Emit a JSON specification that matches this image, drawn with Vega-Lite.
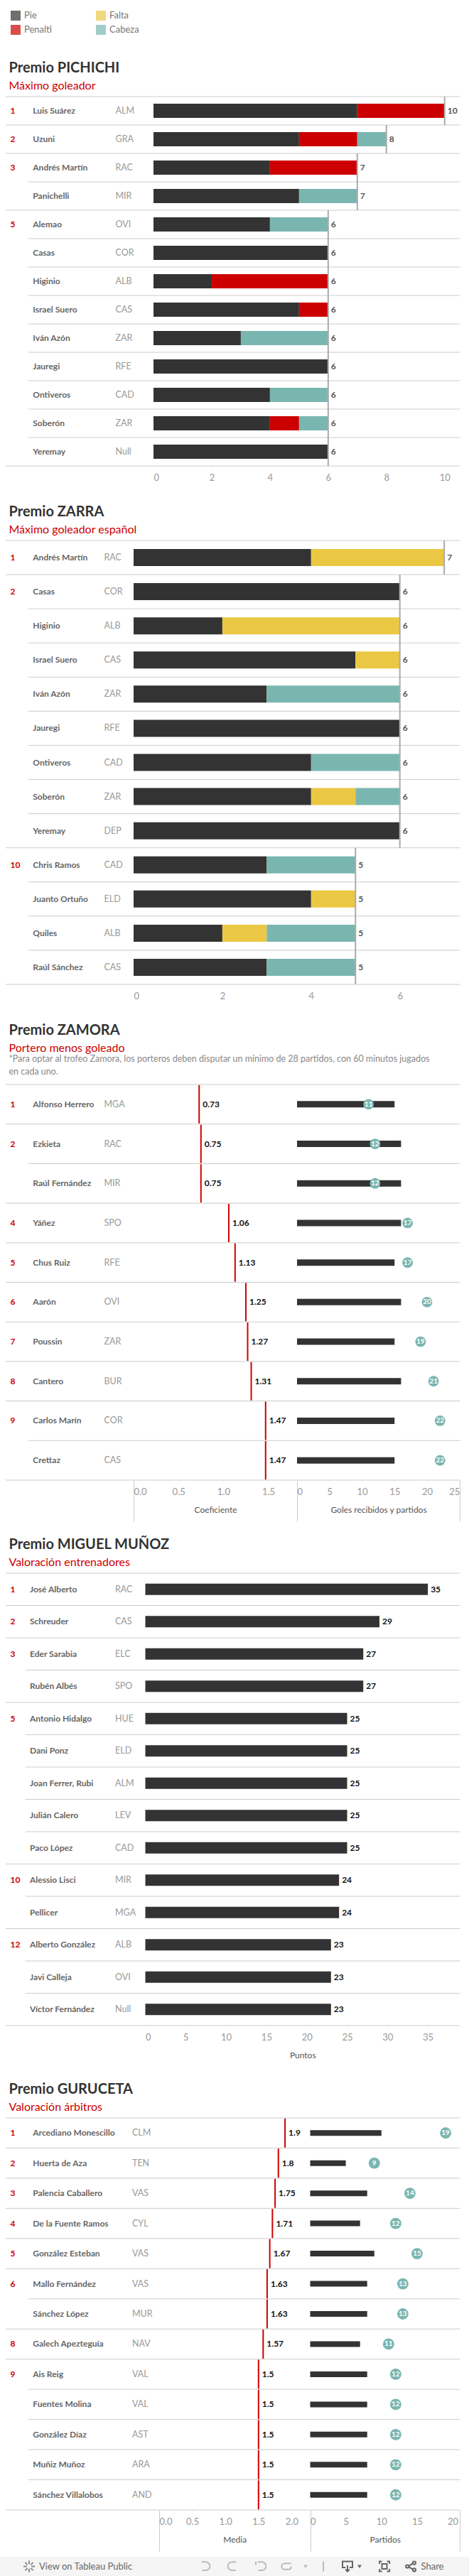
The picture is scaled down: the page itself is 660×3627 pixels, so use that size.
{"$schema":"https://vega.github.io/schema/vega-lite/v6.json","padding":0,"background":"white","spacing":0,"bounds":"flush","vconcat":[
{"width":660,"height":136,"data":{"values":[{"tipo":"Pie"},{"tipo":"Falta"},{"tipo":"Penalti"},{"tipo":"Cabeza"}]},"mark":{"type":"square","size":0},"encoding":{"color":{"field":"tipo","type":"nominal","scale":{"domain":["Pie","Penalti","Falta","Cabeza"],"range":["#333333","#cc0000","#ebc844","#7ab6b0"]},"legend":{"orient":"top-left","offset":15,"columns":2,"title":null,"symbolType":"square","symbolSize":196,"symbolStrokeWidth":0,"labelFontSize":13,"labelColor":"#777777","labelOffset":5,"rowPadding":6,"columnPadding":61}}}},
{"title":{"text":"Premio PICHICHI","subtitle":"Máximo goleador"},"width":660,"height":520,"data":{"name":"pichichi"},"resolve":{"scale":{"x":"independent"},"axis":{"x":"independent"}},"encoding":{"y":{"field":"fila","type":"ordinal","scale":{"type":"band","paddingInner":0,"paddingOuter":0},"axis":null}},"layer":[
{"layer":[
{"transform":[{"filter":"datum.rank!==''"}],"mark":{"type":"rule","color":"#cccccc"},"encoding":{"x":{"datum":8,"type":"quantitative","scale":{"domain":[0,660],"nice":false},"axis":null},"x2":{"datum":647},"y":{"field":"fila","type":"ordinal","bandPosition":0,"axis":null}}},
{"transform":[{"filter":"datum.rank===''"}],"mark":{"type":"rule","color":"#cccccc"},"encoding":{"x":{"datum":40,"type":"quantitative","axis":null},"x2":{"datum":647},"y":{"field":"fila","type":"ordinal","bandPosition":0,"axis":null}}},
{"transform":[{"filter":"datum.fila==13"}],"mark":{"type":"rule","color":"#cccccc"},"encoding":{"x":{"datum":8,"type":"quantitative","axis":null},"x2":{"datum":647},"y":{"field":"fila","type":"ordinal","bandPosition":1,"axis":null}}},
{"mark":{"type":"text","style":"rango","color":"#cc0000"},"encoding":{"x":{"datum":14.5,"type":"quantitative","axis":null},"text":{"field":"rank"}}},
{"mark":{"type":"text","style":"nombre","color":"#666666"},"encoding":{"x":{"datum":46.3,"type":"quantitative","axis":null},"text":{"field":"nombre"}}},
{"mark":{"type":"text","style":"equipo","color":"#999999"},"encoding":{"x":{"datum":162.5,"type":"quantitative","axis":null},"text":{"field":"equipo"}}}]},
{"layer":[
{"data":{"name":"pichichi_goles"},"mark":{"type":"bar","size":20},"encoding":{"x":{"field":"goles","type":"quantitative","stack":"zero","scale":{"domain":[0,10.52],"nice":false,"range":[216,647]},"axis":{"orient":"bottom","values":[0,1,2,3,4,5,6,7,8,9,10,10.52],"format":"d","labelOverlap":false,"labelExpr":"datum.value==10.52?'':datum.label","title":null,"gridColor":{"condition":{"test":"datum.value==0||datum.value==10.52","value":"#cccccc"},"value":"#eeeeee"}}},"color":{"field":"tipo","type":"nominal","scale":{"domain":["Pie","Falta","Penalti","Cabeza"],"range":["#333333","#ebc844","#cc0000","#7ab6b0"]},"legend":null},"order":{"field":"o"}}},
{"mark":{"type":"tick","size":40,"thickness":2,"color":"#aaaaaa","opacity":1},"encoding":{"x":{"field":"total","type":"quantitative","axis":{"orient":"bottom","values":[0,1,2,3,4,5,6,7,8,9,10,10.52],"format":"d","labelOverlap":false,"labelExpr":"datum.value==10.52?'':datum.label","title":null,"gridColor":{"condition":{"test":"datum.value==0||datum.value==10.52","value":"#cccccc"},"value":"#eeeeee"}}}}},
{"mark":{"type":"text","style":"valorg","color":"#555555","dx":4},"encoding":{"x":{"field":"total","type":"quantitative","axis":{"orient":"bottom","values":[0,1,2,3,4,5,6,7,8,9,10,10.52],"format":"d","labelOverlap":false,"labelExpr":"datum.value==10.52?'':datum.label","title":null,"gridColor":{"condition":{"test":"datum.value==0||datum.value==10.52","value":"#cccccc"},"value":"#eeeeee"}}},"text":{"field":"total"}}}]}]},
{"width":660,"height":105,"data":{"values":[]},"mark":"text","encoding":{}},
{"title":{"text":"Premio ZARRA","subtitle":"Máximo goleador español"},"width":660,"height":625,"data":{"name":"zarra"},"resolve":{"scale":{"x":"independent"},"axis":{"x":"independent"}},"encoding":{"y":{"field":"fila","type":"ordinal","scale":{"type":"band","paddingInner":0,"paddingOuter":0},"axis":null}},"layer":[
{"layer":[
{"transform":[{"filter":"datum.rank!==''"}],"mark":{"type":"rule","color":"#cccccc"},"encoding":{"x":{"datum":8,"type":"quantitative","scale":{"domain":[0,660],"nice":false},"axis":null},"x2":{"datum":647},"y":{"field":"fila","type":"ordinal","bandPosition":0,"axis":null}}},
{"transform":[{"filter":"datum.rank===''"}],"mark":{"type":"rule","color":"#cccccc"},"encoding":{"x":{"datum":40,"type":"quantitative","axis":null},"x2":{"datum":647},"y":{"field":"fila","type":"ordinal","bandPosition":0,"axis":null}}},
{"transform":[{"filter":"datum.fila==13"}],"mark":{"type":"rule","color":"#cccccc"},"encoding":{"x":{"datum":8,"type":"quantitative","axis":null},"x2":{"datum":647},"y":{"field":"fila","type":"ordinal","bandPosition":1,"axis":null}}},
{"mark":{"type":"text","style":"rango","color":"#cc0000"},"encoding":{"x":{"datum":14.5,"type":"quantitative","axis":null},"text":{"field":"rank"}}},
{"mark":{"type":"text","style":"nombre","color":"#666666"},"encoding":{"x":{"datum":46.3,"type":"quantitative","axis":null},"text":{"field":"nombre"}}},
{"mark":{"type":"text","style":"equipo","color":"#999999"},"encoding":{"x":{"datum":146.5,"type":"quantitative","axis":null},"text":{"field":"equipo"}}}]},
{"layer":[
{"data":{"name":"zarra_goles"},"mark":{"type":"bar","size":24},"encoding":{"x":{"field":"goles","type":"quantitative","stack":"zero","scale":{"domain":[0,7.35],"nice":false,"range":[188,647]},"axis":{"orient":"bottom","values":[0,1,2,3,4,5,6,7,7.35],"format":"d","labelOverlap":false,"labelExpr":"datum.value==7.35?'':datum.label","title":null,"gridColor":{"condition":{"test":"datum.value==0||datum.value==7.35","value":"#cccccc"},"value":"#eeeeee"}}},"color":{"field":"tipo","type":"nominal","scale":{"domain":["Pie","Falta","Penalti","Cabeza"],"range":["#333333","#ebc844","#cc0000","#7ab6b0"]},"legend":null},"order":{"field":"o"}}},
{"mark":{"type":"tick","size":48,"thickness":2,"color":"#aaaaaa","opacity":1},"encoding":{"x":{"field":"total","type":"quantitative","axis":{"orient":"bottom","values":[0,1,2,3,4,5,6,7,7.35],"format":"d","labelOverlap":false,"labelExpr":"datum.value==7.35?'':datum.label","title":null,"gridColor":{"condition":{"test":"datum.value==0||datum.value==7.35","value":"#cccccc"},"value":"#eeeeee"}}}}},
{"mark":{"type":"text","style":"valorg","color":"#555555","dx":4},"encoding":{"x":{"field":"total","type":"quantitative","axis":{"orient":"bottom","values":[0,1,2,3,4,5,6,7,7.35],"format":"d","labelOverlap":false,"labelExpr":"datum.value==7.35?'':datum.label","title":null,"gridColor":{"condition":{"test":"datum.value==0||datum.value==7.35","value":"#cccccc"},"value":"#eeeeee"}}},"text":{"field":"total"}}}]}]},
{"width":660,"height":141,"data":{"values":[{"linea":"*Para optar al trofeo Zamora, los porteros deben disputar un mínimo de 28 partidos, con 60 minutos jugados","resto":"en cada uno."}]},"layer":[
{"mark":{"type":"text","style":"nota","color":"#888888"},"encoding":{"x":{"datum":12.5,"type":"quantitative","scale":{"domain":[0,660],"nice":false},"axis":null},"y":{"datum":105,"type":"quantitative","scale":{"domain":[0,141],"nice":false,"reverse":true},"axis":null},"text":{"field":"linea"}}},
{"mark":{"type":"text","style":"nota","color":"#888888"},"encoding":{"x":{"datum":12.5,"type":"quantitative","axis":null},"y":{"datum":123,"type":"quantitative","axis":null},"text":{"field":"resto"}}}]},
{"title":{"text":"Premio ZAMORA","subtitle":"Portero menos goleado","offset":43},"width":660,"height":557,"data":{"name":"zamora"},"resolve":{"scale":{"x":"independent"},"axis":{"x":"independent"}},"encoding":{"y":{"field":"fila","type":"ordinal","scale":{"type":"band","paddingInner":0,"paddingOuter":0},"axis":null}},"layer":[
{"layer":[
{"transform":[{"filter":"datum.rank!==''"}],"mark":{"type":"rule","color":"#cccccc"},"encoding":{"x":{"datum":8,"type":"quantitative","scale":{"domain":[0,660],"nice":false},"axis":null},"x2":{"datum":647},"y":{"field":"fila","type":"ordinal","bandPosition":0,"axis":null}}},
{"transform":[{"filter":"datum.rank===''"}],"mark":{"type":"rule","color":"#cccccc"},"encoding":{"x":{"datum":40,"type":"quantitative","axis":null},"x2":{"datum":647},"y":{"field":"fila","type":"ordinal","bandPosition":0,"axis":null}}},
{"transform":[{"filter":"datum.fila==10"}],"mark":{"type":"rule","color":"#cccccc"},"encoding":{"x":{"datum":8,"type":"quantitative","axis":null},"x2":{"datum":647},"y":{"field":"fila","type":"ordinal","bandPosition":1,"axis":null}}},
{"mark":{"type":"text","style":"rango","color":"#cc0000"},"encoding":{"x":{"datum":14.5,"type":"quantitative","axis":null},"text":{"field":"rank"}}},
{"mark":{"type":"text","style":"nombre","color":"#666666"},"encoding":{"x":{"datum":46.3,"type":"quantitative","axis":null},"text":{"field":"nombre"}}},
{"mark":{"type":"text","style":"equipo","color":"#999999"},"encoding":{"x":{"datum":146.5,"type":"quantitative","axis":null},"text":{"field":"equipo"}}}]},
{"layer":[
{"mark":{"type":"tick","size":54,"thickness":2,"color":"#cc0000","opacity":1},"encoding":{"x":{"field":"coeficiente","type":"quantitative","scale":{"domain":[0,1.82],"nice":false,"range":[188,418]},"axis":{"orient":"bottom","values":[0,0.5,1,1.5],"format":".1f","title":"Coeficiente","titleY":41,"tickSize":{"condition":{"test":"datum.value==0","value":58},"value":3},"labelPadding":{"condition":{"test":"datum.value==0","value":-48},"value":7},"tickColor":{"condition":{"test":"datum.value==0","value":"#cccccc"},"value":"#eeeeee"},"gridColor":{"condition":{"test":"datum.value==0","value":"#cccccc"},"value":"#eeeeee"}}}}},
{"mark":{"type":"text","style":"valor","color":"#111111","dx":5},"encoding":{"x":{"field":"coeficiente","type":"quantitative","axis":{"orient":"bottom","values":[0,0.5,1,1.5],"format":".1f","title":"Coeficiente","titleY":41,"tickSize":{"condition":{"test":"datum.value==0","value":58},"value":3},"labelPadding":{"condition":{"test":"datum.value==0","value":-48},"value":7},"tickColor":{"condition":{"test":"datum.value==0","value":"#cccccc"},"value":"#eeeeee"},"gridColor":{"condition":{"test":"datum.value==0","value":"#cccccc"},"value":"#eeeeee"}}},"text":{"field":"coeficiente","format":".2f"}}}]},
{"layer":[
{"mark":{"type":"bar","size":9,"color":"#333333"},"encoding":{"x":{"field":"partidos","type":"quantitative","scale":{"domain":[0,25.03],"nice":false,"range":[418,647]},"axis":{"orient":"bottom","values":[0,5,10,15,20,25,25.03],"format":"d","labelExpr":"datum.value==25.03?'':datum.label","title":"Goles recibidos y partidos","titleY":41,"tickSize":{"condition":{"test":"datum.value==0||datum.value==25.03","value":58},"value":3},"labelPadding":{"condition":{"test":"datum.value==0","value":-48},"value":7},"tickColor":{"condition":{"test":"datum.value==0||datum.value==25.03","value":"#cccccc"},"value":"#eeeeee"},"gridColor":{"condition":{"test":"datum.value==0||datum.value==25.03","value":"#cccccc"},"value":"#eeeeee"}}}}},
{"mark":{"type":"circle","size":220,"color":"#7ab6b0","opacity":1},"encoding":{"x":{"field":"goles","type":"quantitative","axis":{"orient":"bottom","values":[0,5,10,15,20,25,25.03],"format":"d","labelExpr":"datum.value==25.03?'':datum.label","title":"Goles recibidos y partidos","titleY":41,"tickSize":{"condition":{"test":"datum.value==0||datum.value==25.03","value":58},"value":3},"labelPadding":{"condition":{"test":"datum.value==0","value":-48},"value":7},"tickColor":{"condition":{"test":"datum.value==0||datum.value==25.03","value":"#cccccc"},"value":"#eeeeee"},"gridColor":{"condition":{"test":"datum.value==0||datum.value==25.03","value":"#cccccc"},"value":"#eeeeee"}}}}},
{"mark":{"type":"text","style":"circulo","color":"#ffffff"},"encoding":{"x":{"field":"goles","type":"quantitative","axis":{"orient":"bottom","values":[0,5,10,15,20,25,25.03],"format":"d","labelExpr":"datum.value==25.03?'':datum.label","title":"Goles recibidos y partidos","titleY":41,"tickSize":{"condition":{"test":"datum.value==0||datum.value==25.03","value":58},"value":3},"labelPadding":{"condition":{"test":"datum.value==0","value":-48},"value":7},"tickColor":{"condition":{"test":"datum.value==0||datum.value==25.03","value":"#cccccc"},"value":"#eeeeee"},"gridColor":{"condition":{"test":"datum.value==0||datum.value==25.03","value":"#cccccc"},"value":"#eeeeee"}}},"text":{"field":"goles"}}}]}]},
{"width":660,"height":131,"data":{"values":[]},"mark":"text","encoding":{}},
{"title":{"text":"Premio MIGUEL MUÑOZ","subtitle":"Valoración entrenadores"},"width":660,"height":637,"data":{"name":"munoz"},"resolve":{"scale":{"x":"independent"},"axis":{"x":"independent"}},"encoding":{"y":{"field":"fila","type":"ordinal","scale":{"type":"band","paddingInner":0,"paddingOuter":0},"axis":null}},"layer":[
{"layer":[
{"transform":[{"filter":"datum.rank!==''"}],"mark":{"type":"rule","color":"#cccccc"},"encoding":{"x":{"datum":8,"type":"quantitative","scale":{"domain":[0,660],"nice":false},"axis":null},"x2":{"datum":647},"y":{"field":"fila","type":"ordinal","bandPosition":0,"axis":null}}},
{"transform":[{"filter":"datum.rank===''"}],"mark":{"type":"rule","color":"#cccccc"},"encoding":{"x":{"datum":36,"type":"quantitative","axis":null},"x2":{"datum":647},"y":{"field":"fila","type":"ordinal","bandPosition":0,"axis":null}}},
{"transform":[{"filter":"datum.fila==14"}],"mark":{"type":"rule","color":"#cccccc"},"encoding":{"x":{"datum":8,"type":"quantitative","axis":null},"x2":{"datum":647},"y":{"field":"fila","type":"ordinal","bandPosition":1,"axis":null}}},
{"mark":{"type":"text","style":"rango","color":"#cc0000"},"encoding":{"x":{"datum":14.5,"type":"quantitative","axis":null},"text":{"field":"rank"}}},
{"mark":{"type":"text","style":"nombre","color":"#666666"},"encoding":{"x":{"datum":42,"type":"quantitative","axis":null},"text":{"field":"nombre"}}},
{"mark":{"type":"text","style":"equipo","color":"#999999"},"encoding":{"x":{"datum":162,"type":"quantitative","axis":null},"text":{"field":"equipo"}}}]},
{"layer":[
{"mark":{"type":"bar","size":16,"color":"#333333"},"encoding":{"x":{"field":"puntos","type":"quantitative","scale":{"domain":[0,38.95],"nice":false,"range":[204.5,647]},"axis":{"orient":"bottom","values":[0,5,10,15,20,25,30,35,38.95],"format":"d","labelExpr":"datum.value==38.95?'':datum.label","title":"Puntos","titleY":41,"gridColor":{"condition":{"test":"datum.value==0||datum.value==38.95","value":"#cccccc"},"value":"#eeeeee"}}}}},
{"mark":{"type":"text","style":"valor","color":"#111111","dx":4},"encoding":{"x":{"field":"puntos","type":"quantitative","axis":{"orient":"bottom","values":[0,5,10,15,20,25,30,35,38.95],"format":"d","labelExpr":"datum.value==38.95?'':datum.label","title":"Puntos","titleY":41,"gridColor":{"condition":{"test":"datum.value==0||datum.value==38.95","value":"#cccccc"},"value":"#eeeeee"}}},"text":{"field":"puntos"}}}]}]},
{"width":660,"height":130,"data":{"values":[]},"mark":"text","encoding":{}},
{"title":{"text":"Premio GURUCETA","subtitle":"Valoración árbitros"},"width":660,"height":552,"data":{"name":"guruceta"},"resolve":{"scale":{"x":"independent"},"axis":{"x":"independent"}},"encoding":{"y":{"field":"fila","type":"ordinal","scale":{"type":"band","paddingInner":0,"paddingOuter":0},"axis":null}},"layer":[
{"layer":[
{"transform":[{"filter":"datum.rank!==''"}],"mark":{"type":"rule","color":"#cccccc"},"encoding":{"x":{"datum":8,"type":"quantitative","scale":{"domain":[0,660],"nice":false},"axis":null},"x2":{"datum":647},"y":{"field":"fila","type":"ordinal","bandPosition":0,"axis":null}}},
{"transform":[{"filter":"datum.rank===''"}],"mark":{"type":"rule","color":"#cccccc"},"encoding":{"x":{"datum":40,"type":"quantitative","axis":null},"x2":{"datum":647},"y":{"field":"fila","type":"ordinal","bandPosition":0,"axis":null}}},
{"transform":[{"filter":"datum.fila==13"}],"mark":{"type":"rule","color":"#cccccc"},"encoding":{"x":{"datum":8,"type":"quantitative","axis":null},"x2":{"datum":647},"y":{"field":"fila","type":"ordinal","bandPosition":1,"axis":null}}},
{"mark":{"type":"text","style":"rango","color":"#cc0000"},"encoding":{"x":{"datum":14.5,"type":"quantitative","axis":null},"text":{"field":"rank"}}},
{"mark":{"type":"text","style":"nombre","color":"#666666"},"encoding":{"x":{"datum":46.3,"type":"quantitative","axis":null},"text":{"field":"nombre"}}},
{"mark":{"type":"text","style":"equipo","color":"#999999"},"encoding":{"x":{"datum":186,"type":"quantitative","axis":null},"text":{"field":"equipo"}}}]},
{"layer":[
{"mark":{"type":"tick","size":41,"thickness":2,"color":"#cc0000","opacity":1},"encoding":{"x":{"field":"media","type":"quantitative","scale":{"domain":[0,2.28],"nice":false,"range":[224,436.5]},"axis":{"orient":"bottom","values":[0,0.5,1,1.5,2],"format":".1f","title":"Media","titleY":41,"tickSize":{"condition":{"test":"datum.value==0","value":58},"value":3},"labelPadding":{"condition":{"test":"datum.value==0","value":-48},"value":7},"tickColor":{"condition":{"test":"datum.value==0","value":"#cccccc"},"value":"#eeeeee"},"gridColor":{"condition":{"test":"datum.value==0","value":"#cccccc"},"value":"#eeeeee"}}}}},
{"mark":{"type":"text","style":"valor","color":"#111111","dx":5},"encoding":{"x":{"field":"media","type":"quantitative","axis":{"orient":"bottom","values":[0,0.5,1,1.5,2],"format":".1f","title":"Media","titleY":41,"tickSize":{"condition":{"test":"datum.value==0","value":58},"value":3},"labelPadding":{"condition":{"test":"datum.value==0","value":-48},"value":7},"tickColor":{"condition":{"test":"datum.value==0","value":"#cccccc"},"value":"#eeeeee"},"gridColor":{"condition":{"test":"datum.value==0","value":"#cccccc"},"value":"#eeeeee"}}},"text":{"field":"media"}}}]},
{"layer":[
{"mark":{"type":"bar","size":8,"color":"#333333"},"encoding":{"x":{"field":"partidos","type":"quantitative","scale":{"domain":[0,20.99],"nice":false,"range":[436.5,647]},"axis":{"orient":"bottom","values":[0,5,10,15,20,20.99],"format":"d","labelExpr":"datum.value==20.99?'':datum.label","title":"Partidos","titleY":41,"tickSize":{"condition":{"test":"datum.value==0||datum.value==20.99","value":58},"value":3},"labelPadding":{"condition":{"test":"datum.value==0","value":-48},"value":7},"tickColor":{"condition":{"test":"datum.value==0||datum.value==20.99","value":"#cccccc"},"value":"#eeeeee"},"gridColor":{"condition":{"test":"datum.value==0||datum.value==20.99","value":"#cccccc"},"value":"#eeeeee"}}}}},
{"mark":{"type":"circle","size":250,"color":"#7ab6b0","opacity":1},"encoding":{"x":{"field":"goles","type":"quantitative","axis":{"orient":"bottom","values":[0,5,10,15,20,20.99],"format":"d","labelExpr":"datum.value==20.99?'':datum.label","title":"Partidos","titleY":41,"tickSize":{"condition":{"test":"datum.value==0||datum.value==20.99","value":58},"value":3},"labelPadding":{"condition":{"test":"datum.value==0","value":-48},"value":7},"tickColor":{"condition":{"test":"datum.value==0||datum.value==20.99","value":"#cccccc"},"value":"#eeeeee"},"gridColor":{"condition":{"test":"datum.value==0||datum.value==20.99","value":"#cccccc"},"value":"#eeeeee"}}}}},
{"mark":{"type":"text","style":"circulo","color":"#ffffff"},"encoding":{"x":{"field":"goles","type":"quantitative","axis":{"orient":"bottom","values":[0,5,10,15,20,20.99],"format":"d","labelExpr":"datum.value==20.99?'':datum.label","title":"Partidos","titleY":41,"tickSize":{"condition":{"test":"datum.value==0||datum.value==20.99","value":58},"value":3},"labelPadding":{"condition":{"test":"datum.value==0","value":-48},"value":7},"tickColor":{"condition":{"test":"datum.value==0||datum.value==20.99","value":"#cccccc"},"value":"#eeeeee"},"gridColor":{"condition":{"test":"datum.value==0||datum.value==20.99","value":"#cccccc"},"value":"#eeeeee"}}},"text":{"field":"goles"}}}]}]},
{"width":660,"height":66,"data":{"values":[]},"mark":"text","encoding":{}},
{"width":660,"height":27,"view":{"fill":"#f5f5f5","stroke":null},"data":{"values":[{"enlace":"View on Tableau Public","compartir":"Share"}]},"layer":[
{"mark":{"type":"text","style":"pie","color":"#666666"},"encoding":{"x":{"datum":55,"type":"quantitative","scale":{"domain":[0,660],"nice":false},"axis":null},"text":{"field":"enlace"}}},
{"mark":{"type":"text","style":"pie","color":"#666666"},"encoding":{"x":{"datum":592.5,"type":"quantitative","axis":null},"text":{"field":"compartir"}}},
{"mark":{"type":"point","size":256,"filled":false,"stroke":"#888888","opacity":1,"shape":"M0,-1V-0.4M0,0.4V1M-1,0H-0.4M0.4,0H1M-0.7,-0.7L-0.3,-0.3M0.3,0.3L0.7,0.7M-0.7,0.7L-0.3,0.3M0.3,-0.3L0.7,-0.7"},"encoding":{"x":{"datum":41,"type":"quantitative","axis":null}}},
{"mark":{"type":"point","size":196,"filled":false,"stroke":"#bbbbbb","opacity":1,"shape":"M-0.6,-0.9H0.2A0.8,0.8 0 0 1 0.2,0.8H-0.5"},"encoding":{"x":{"datum":288,"type":"quantitative","axis":null}}},
{"mark":{"type":"point","size":196,"filled":false,"stroke":"#bbbbbb","opacity":1,"shape":"M0.6,-0.9H-0.2A0.8,0.8 0 0 0 -0.2,0.8H0.5"},"encoding":{"x":{"datum":328,"type":"quantitative","axis":null}}},
{"mark":{"type":"point","size":196,"filled":false,"stroke":"#bbbbbb","opacity":1,"shape":"M-1,-1V-0.3M-0.6,-0.9H0.2A0.8,0.8 0 0 1 0.2,0.8H-0.5"},"encoding":{"x":{"datum":367,"type":"quantitative","axis":null}}},
{"mark":{"type":"point","size":196,"filled":false,"stroke":"#bbbbbb","opacity":1,"shape":"M0.8,-0.6H-0.5A0.6,0.6 0 0 0 -0.5,0.6H0.5A0.6,0.6 0 0 0 0.8,0"},"encoding":{"x":{"datum":404,"type":"quantitative","axis":null}}},
{"mark":{"type":"point","size":36,"filled":true,"fill":"#bbbbbb","opacity":1,"shape":"M-1,-0.7H1L0,0.8Z"},"encoding":{"x":{"datum":430,"type":"quantitative","axis":null}}},
{"mark":{"type":"point","size":196,"filled":false,"stroke":"#bbbbbb","opacity":1,"shape":"M0,-1V1"},"encoding":{"x":{"datum":455,"type":"quantitative","axis":null}}},
{"mark":{"type":"point","size":196,"filled":false,"stroke":"#666666","opacity":1,"shape":"M-0.4,0.2H-1V-1H1V0.2H0.4M0,-0.2V1M-0.4,0.6L0,1L0.4,0.6"},"encoding":{"x":{"datum":489,"type":"quantitative","axis":null}}},
{"mark":{"type":"point","size":36,"filled":true,"fill":"#666666","opacity":1,"shape":"M-1,-0.7H1L0,0.8Z"},"encoding":{"x":{"datum":506,"type":"quantitative","axis":null}}},
{"mark":{"type":"point","size":196,"filled":false,"stroke":"#666666","opacity":1,"shape":"M-1,-0.5V-1H-0.5M0.5,-1H1V-0.5M1,0.5V1H0.5M-0.5,1H-1V0.5M-0.5,-0.5H0.5V0.5H-0.5Z"},"encoding":{"x":{"datum":541,"type":"quantitative","axis":null}}},
{"mark":{"type":"point","size":196,"filled":false,"stroke":"#666666","opacity":1,"shape":"M-0.4,-0.1L0.4,-0.6M-0.4,0.1L0.4,0.6M-0.4,0A0.3,0.3 0 1 1 -1,0A0.3,0.3 0 1 1 -0.4,0M1,-0.7A0.3,0.3 0 1 1 0.4,-0.7A0.3,0.3 0 1 1 1,-0.7M1,0.7A0.3,0.3 0 1 1 0.4,0.7A0.3,0.3 0 1 1 1,0.7"},"encoding":{"x":{"datum":578,"type":"quantitative","axis":null}}}]}],
"datasets":{
"pichichi":[{"fila":1,"rank":1,"nombre":"Luis Suárez","equipo":"ALM","total":10},{"fila":2,"rank":2,"nombre":"Uzuni","equipo":"GRA","total":8},{"fila":3,"rank":3,"nombre":"Andrés Martín","equipo":"RAC","total":7},{"fila":4,"rank":"","nombre":"Panichelli","equipo":"MIR","total":7},{"fila":5,"rank":5,"nombre":"Alemao","equipo":"OVI","total":6},{"fila":6,"rank":"","nombre":"Casas","equipo":"COR","total":6},{"fila":7,"rank":"","nombre":"Higinio","equipo":"ALB","total":6},{"fila":8,"rank":"","nombre":"Israel Suero","equipo":"CAS","total":6},{"fila":9,"rank":"","nombre":"Iván Azón","equipo":"ZAR","total":6},{"fila":10,"rank":"","nombre":"Jauregi","equipo":"RFE","total":6},{"fila":11,"rank":"","nombre":"Ontiveros","equipo":"CAD","total":6},{"fila":12,"rank":"","nombre":"Soberón","equipo":"ZAR","total":6},{"fila":13,"rank":"","nombre":"Yeremay","equipo":"Null","total":6}],
"pichichi_goles":[{"fila":1,"tipo":"Pie","goles":7,"o":1},{"fila":1,"tipo":"Penalti","goles":3,"o":2},{"fila":2,"tipo":"Pie","goles":5,"o":1},{"fila":2,"tipo":"Penalti","goles":2,"o":2},{"fila":2,"tipo":"Cabeza","goles":1,"o":4},{"fila":3,"tipo":"Pie","goles":4,"o":1},{"fila":3,"tipo":"Penalti","goles":3,"o":2},{"fila":4,"tipo":"Pie","goles":5,"o":1},{"fila":4,"tipo":"Cabeza","goles":2,"o":4},{"fila":5,"tipo":"Pie","goles":4,"o":1},{"fila":5,"tipo":"Cabeza","goles":2,"o":4},{"fila":6,"tipo":"Pie","goles":6,"o":1},{"fila":7,"tipo":"Pie","goles":2,"o":1},{"fila":7,"tipo":"Penalti","goles":4,"o":2},{"fila":8,"tipo":"Pie","goles":5,"o":1},{"fila":8,"tipo":"Penalti","goles":1,"o":2},{"fila":9,"tipo":"Pie","goles":3,"o":1},{"fila":9,"tipo":"Cabeza","goles":3,"o":4},{"fila":10,"tipo":"Pie","goles":6,"o":1},{"fila":11,"tipo":"Pie","goles":4,"o":1},{"fila":11,"tipo":"Cabeza","goles":2,"o":4},{"fila":12,"tipo":"Pie","goles":4,"o":1},{"fila":12,"tipo":"Penalti","goles":1,"o":2},{"fila":12,"tipo":"Cabeza","goles":1,"o":4},{"fila":13,"tipo":"Pie","goles":6,"o":1}],
"zarra":[{"fila":1,"rank":1,"nombre":"Andrés Martín","equipo":"RAC","total":7},{"fila":2,"rank":2,"nombre":"Casas","equipo":"COR","total":6},{"fila":3,"rank":"","nombre":"Higinio","equipo":"ALB","total":6},{"fila":4,"rank":"","nombre":"Israel Suero","equipo":"CAS","total":6},{"fila":5,"rank":"","nombre":"Iván Azón","equipo":"ZAR","total":6},{"fila":6,"rank":"","nombre":"Jauregi","equipo":"RFE","total":6},{"fila":7,"rank":"","nombre":"Ontiveros","equipo":"CAD","total":6},{"fila":8,"rank":"","nombre":"Soberón","equipo":"ZAR","total":6},{"fila":9,"rank":"","nombre":"Yeremay","equipo":"DEP","total":6},{"fila":10,"rank":10,"nombre":"Chris Ramos","equipo":"CAD","total":5},{"fila":11,"rank":"","nombre":"Juanto Ortuño","equipo":"ELD","total":5},{"fila":12,"rank":"","nombre":"Quiles","equipo":"ALB","total":5},{"fila":13,"rank":"","nombre":"Raúl Sánchez","equipo":"CAS","total":5}],
"zarra_goles":[{"fila":1,"tipo":"Pie","goles":4,"o":1},{"fila":1,"tipo":"Falta","goles":3,"o":3},{"fila":2,"tipo":"Pie","goles":6,"o":1},{"fila":3,"tipo":"Pie","goles":2,"o":1},{"fila":3,"tipo":"Falta","goles":4,"o":3},{"fila":4,"tipo":"Pie","goles":5,"o":1},{"fila":4,"tipo":"Falta","goles":1,"o":3},{"fila":5,"tipo":"Pie","goles":3,"o":1},{"fila":5,"tipo":"Cabeza","goles":3,"o":4},{"fila":6,"tipo":"Pie","goles":6,"o":1},{"fila":7,"tipo":"Pie","goles":4,"o":1},{"fila":7,"tipo":"Cabeza","goles":2,"o":4},{"fila":8,"tipo":"Pie","goles":4,"o":1},{"fila":8,"tipo":"Falta","goles":1,"o":3},{"fila":8,"tipo":"Cabeza","goles":1,"o":4},{"fila":9,"tipo":"Pie","goles":6,"o":1},{"fila":10,"tipo":"Pie","goles":3,"o":1},{"fila":10,"tipo":"Cabeza","goles":2,"o":4},{"fila":11,"tipo":"Pie","goles":4,"o":1},{"fila":11,"tipo":"Falta","goles":1,"o":3},{"fila":12,"tipo":"Pie","goles":2,"o":1},{"fila":12,"tipo":"Falta","goles":1,"o":3},{"fila":12,"tipo":"Cabeza","goles":2,"o":4},{"fila":13,"tipo":"Pie","goles":3,"o":1},{"fila":13,"tipo":"Cabeza","goles":2,"o":4}],
"zamora":[{"fila":1,"rank":1,"nombre":"Alfonso Herrero","equipo":"MGA","coeficiente":0.73,"partidos":15,"goles":11},{"fila":2,"rank":2,"nombre":"Ezkieta","equipo":"RAC","coeficiente":0.75,"partidos":16,"goles":12},{"fila":3,"rank":"","nombre":"Raúl Fernández","equipo":"MIR","coeficiente":0.75,"partidos":16,"goles":12},{"fila":4,"rank":4,"nombre":"Yáñez","equipo":"SPO","coeficiente":1.06,"partidos":16,"goles":17},{"fila":5,"rank":5,"nombre":"Chus Ruiz","equipo":"RFE","coeficiente":1.13,"partidos":15,"goles":17},{"fila":6,"rank":6,"nombre":"Aarón","equipo":"OVI","coeficiente":1.25,"partidos":16,"goles":20},{"fila":7,"rank":7,"nombre":"Poussin","equipo":"ZAR","coeficiente":1.27,"partidos":15,"goles":19},{"fila":8,"rank":8,"nombre":"Cantero","equipo":"BUR","coeficiente":1.31,"partidos":16,"goles":21},{"fila":9,"rank":9,"nombre":"Carlos Marín","equipo":"COR","coeficiente":1.47,"partidos":15,"goles":22},{"fila":10,"rank":"","nombre":"Crettaz","equipo":"CAS","coeficiente":1.47,"partidos":15,"goles":22}],
"munoz":[{"fila":1,"rank":1,"nombre":"José Alberto","equipo":"RAC","puntos":35},{"fila":2,"rank":2,"nombre":"Schreuder","equipo":"CAS","puntos":29},{"fila":3,"rank":3,"nombre":"Eder Sarabia","equipo":"ELC","puntos":27},{"fila":4,"rank":"","nombre":"Rubén Albés","equipo":"SPO","puntos":27},{"fila":5,"rank":5,"nombre":"Antonio Hidalgo","equipo":"HUE","puntos":25},{"fila":6,"rank":"","nombre":"Dani Ponz","equipo":"ELD","puntos":25},{"fila":7,"rank":"","nombre":"Joan Ferrer, Rubi","equipo":"ALM","puntos":25},{"fila":8,"rank":"","nombre":"Julián Calero","equipo":"LEV","puntos":25},{"fila":9,"rank":"","nombre":"Paco López","equipo":"CAD","puntos":25},{"fila":10,"rank":10,"nombre":"Alessio Lisci","equipo":"MIR","puntos":24},{"fila":11,"rank":"","nombre":"Pellicer","equipo":"MGA","puntos":24},{"fila":12,"rank":12,"nombre":"Alberto González","equipo":"ALB","puntos":23},{"fila":13,"rank":"","nombre":"Javi Calleja","equipo":"OVI","puntos":23},{"fila":14,"rank":"","nombre":"Víctor Fernández","equipo":"Null","puntos":23}],
"guruceta":[{"fila":1,"rank":1,"nombre":"Arcediano Monescillo","equipo":"CLM","media":1.9,"partidos":10,"goles":19},{"fila":2,"rank":2,"nombre":"Huerta de Aza","equipo":"TEN","media":1.8,"partidos":5,"goles":9},{"fila":3,"rank":3,"nombre":"Palencia Caballero","equipo":"VAS","media":1.75,"partidos":8,"goles":14},{"fila":4,"rank":4,"nombre":"De la Fuente Ramos","equipo":"CYL","media":1.71,"partidos":7,"goles":12},{"fila":5,"rank":5,"nombre":"González Esteban","equipo":"VAS","media":1.67,"partidos":9,"goles":15},{"fila":6,"rank":6,"nombre":"Mallo Fernández","equipo":"VAS","media":1.63,"partidos":8,"goles":13},{"fila":7,"rank":"","nombre":"Sánchez López","equipo":"MUR","media":1.63,"partidos":8,"goles":13},{"fila":8,"rank":8,"nombre":"Galech Apezteguía","equipo":"NAV","media":1.57,"partidos":7,"goles":11},{"fila":9,"rank":9,"nombre":"Ais Reig","equipo":"VAL","media":1.5,"partidos":8,"goles":12},{"fila":10,"rank":"","nombre":"Fuentes Molina","equipo":"VAL","media":1.5,"partidos":8,"goles":12},{"fila":11,"rank":"","nombre":"González Díaz","equipo":"AST","media":1.5,"partidos":8,"goles":12},{"fila":12,"rank":"","nombre":"Muñiz Muñoz","equipo":"ARA","media":1.5,"partidos":8,"goles":12},{"fila":13,"rank":"","nombre":"Sánchez Villalobos","equipo":"AND","media":1.5,"partidos":8,"goles":12}]},
"config":{"font":"Lato","view":{"stroke":null},
"title":{"anchor":"start","frame":"group","dx":12.5,"fontSize":20,"fontWeight":"bold","color":"#333333","subtitleColor":"#cc0000","subtitleFontSize":16,"subtitleFontWeight":"normal","subtitlePadding":7,"offset":7},
"axisX":{"grid":true,"gridColor":"#eeeeee","tickColor":"#eeeeee","tickSize":3,"domain":false,"labelColor":"#999999","labelFontSize":13,"labelFlush":3,"labelPadding":7,"labelOverlap":false,"titleColor":"#555555","titleFontSize":12,"titleFontWeight":"normal","titleBaseline":"middle"},
"style":{
"rango":{"fontWeight":"bold","fontSize":12,"align":"left","baseline":"middle"},
"nombre":{"fontWeight":"bold","fontSize":12,"align":"left","baseline":"middle"},
"equipo":{"fontSize":12.5,"align":"left","baseline":"middle"},
"valor":{"fontWeight":"bold","fontSize":12,"align":"left","baseline":"middle"},
"valorg":{"fontWeight":"bold","fontSize":12,"align":"left","baseline":"middle"},
"circulo":{"fontWeight":"bold","fontSize":10,"align":"center","baseline":"middle"},
"nota":{"fontSize":12.5,"align":"left","baseline":"middle"},
"pie":{"fontSize":13,"align":"left","baseline":"middle"}}}}
